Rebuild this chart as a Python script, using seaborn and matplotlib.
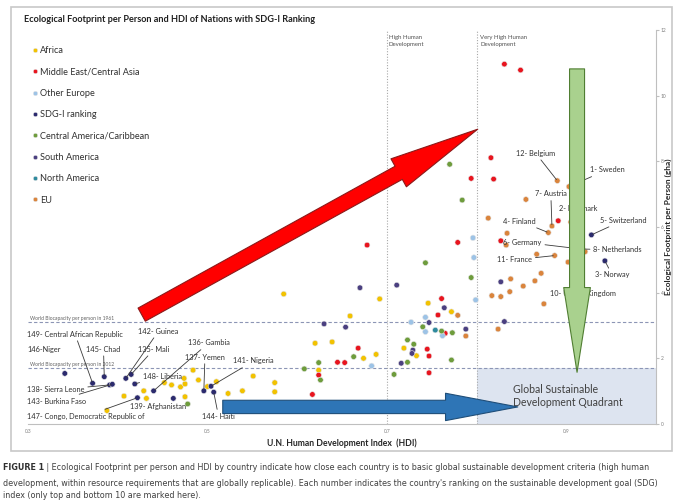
import seaborn as sns
import matplotlib.pyplot as plt
import pandas as pd
from matplotlib.patches import FancyArrowPatch, Rectangle

# values: HDI and footprint (gha) per region
africa_hdi = [0.388, 0.407, 0.429, 0.432, 0.452, 0.460, 0.470, 0.475, 0.474, 0.475,
              0.484, 0.490, 0.500, 0.510, 0.523, 0.539, 0.551, 0.575, 0.575, 0.585,
              0.620, 0.639, 0.659, 0.692, 0.674, 0.688, 0.624, 0.746, 0.772, 0.719, 0.733]
africa_ef = [0.41, 0.85, 1.01, 0.78, 1.26, 1.19, 1.13, 1.22, 1.39, 0.83,
             1.64, 1.34, 1.14, 1.29, 0.93, 1.01, 1.46, 1.26, 0.98, 3.96,
             2.46, 2.50, 3.29, 3.81, 2.00, 2.12, 1.64, 3.68, 3.42, 2.31, 2.08]
mideast_hdi = [0.831, 0.849, 0.816, 0.819, 0.794, 0.779, 0.678, 0.891, 0.827, 0.761,
               0.757, 0.765, 0.745, 0.747, 0.747, 0.668, 0.645, 0.653, 0.624, 0.617]
mideast_ef = [10.96, 10.78, 8.11, 7.46, 7.48, 5.53, 5.45, 6.19, 5.58, 3.82,
              3.32, 2.76, 2.28, 2.07, 1.56, 2.31, 1.88, 1.87, 1.49, 0.90]
other_eu_hdi = [0.796, 0.797, 0.799, 0.743, 0.727, 0.743, 0.762, 0.683]
other_eu_ef = [5.67, 5.07, 3.78, 3.25, 3.10, 2.81, 2.69, 1.77]
central_hdi = [0.770, 0.784, 0.794, 0.743, 0.740, 0.761, 0.773, 0.723, 0.730, 0.723,
               0.772, 0.708, 0.663, 0.608, 0.624, 0.626, 0.478]
central_ef = [7.91, 6.82, 4.46, 4.91, 2.96, 2.83, 2.78, 2.56, 2.43, 1.88,
              1.95, 1.51, 2.05, 1.68, 1.87, 1.34, 0.61]
south_hdi = [0.630, 0.654, 0.670, 0.711, 0.764, 0.747, 0.788, 0.729, 0.728, 0.716, 0.827, 0.831]
south_ef = [3.05, 2.95, 4.15, 4.23, 3.54, 3.09, 2.89, 2.25, 2.15, 1.85, 4.33, 3.12]
north_hdi = [0.754]
north_ef = [2.86]
eu_hdi = [0.813, 0.779, 0.788, 0.855, 0.834, 0.833, 0.867, 0.902, 0.872, 0.865,
          0.852, 0.838, 0.837, 0.817, 0.827, 0.875, 0.824, 0.921]
eu_ef = [6.27, 3.31, 2.68, 6.84, 5.81, 5.45, 5.17, 4.93, 4.59, 4.36,
         4.20, 4.42, 4.03, 3.91, 3.88, 3.66, 2.89, 5.25]

# SDG-I ranked countries (top and bottom)
rank_names = ['1- Sweden', '2- Denmark', '3- Norway', '4- Finland', '5- Switzerland',
              '6- Germany', '7- Austria', '8- Netherlands', '10- United Kingdom', '11- France',
              '12- Belgium', '135- Mali', '136- Gambia', '137- Yemen', '138- Sierra Leone',
              '139- Afghanistan', '141- Nigeria', '142- Guinea', '143- Burkina Faso', '144- Haiti',
              '145- Chad', '146-Niger', '147- Congo, Democratic Republic of', '148- Liberia',
              '149- Central African Republic']
rank_hdi = [0.903, 0.905, 0.943, 0.880, 0.928, 0.907, 0.884, 0.918, 0.912, 0.887,
            0.890, 0.415, 0.440, 0.496, 0.391, 0.462, 0.504, 0.409, 0.394, 0.507,
            0.385, 0.341, 0.422, 0.419, 0.372]
rank_ef = [7.23, 6.15, 4.97, 5.83, 5.76, 5.36, 6.03, 5.33, 4.10, 5.13,
           7.41, 1.51, 1.01, 1.01, 1.19, 0.78, 1.15, 1.39, 1.21, 0.97,
           1.44, 1.54, 0.80, 1.22, 1.24]
rank_region = ['EU', 'EU', 'SDG-I ranking', 'EU', 'SDG-I ranking', 'EU', 'EU', 'EU', 'EU', 'EU',
               'EU'] + ['SDG-I ranking'] * 14

# where each label text sits, and whether it has a leader line
label_x = [0.926, 0.892, 0.932, 0.830, 0.938, 0.830, 0.865, 0.930, 0.882, 0.823,
           0.844, 0.423, 0.478, 0.475, 0.299, 0.414, 0.529, 0.423, 0.299, 0.494,
           0.365, 0.299, 0.299, 0.428, 0.299]
label_y = [7.74, 6.55, 4.54, 6.18, 6.21, 5.54, 7.01, 5.30, 3.96, 5.00,
           8.25, 2.28, 2.47, 2.04, 1.04, 0.52, 1.92, 2.83, 0.70, 0.24,
           2.28, 2.28, 0.24, 1.46, 2.74]
no_leader = ['2- Denmark', '10- United Kingdom', '146-Niger', '139- Afghanistan']

regions = ['Africa', 'Middle East/Central Asia', 'Other Europe', 'SDG-I ranking',
           'Central America/Caribbean', 'South America', 'North America', 'EU']
colors = ['#F2C200', '#E8141E', '#9DC3E6', '#2B2A6E', '#6E9C3C', '#4A3F80', '#2E8A9E', '#DA843C']

rows = []
for reg, hx, ey in [('Africa', africa_hdi, africa_ef),
                    ('Middle East/Central Asia', mideast_hdi, mideast_ef),
                    ('Other Europe', other_eu_hdi, other_eu_ef),
                    ('Central America/Caribbean', central_hdi, central_ef),
                    ('South America', south_hdi, south_ef),
                    ('North America', north_hdi, north_ef),
                    ('EU', eu_hdi, eu_ef),
                    ]:
    for a, b in zip(hx, ey):
        rows.append((reg, a, b))
for reg, a, b in zip(rank_region, rank_hdi, rank_ef):
    rows.append((reg, a, b))
df = pd.DataFrame(rows, columns=['region', 'hdi', 'ef'])

sns.set_style('white')
plt.rcParams['font.family'] = ['Lato', 'DejaVu Sans']

W, H = 673, 504
fig = plt.figure(figsize=(6.73, 5.04), dpi=100)
ax = fig.add_axes([28 / W, 1 - 424 / H, (656 - 28) / W, (424 - 30) / H])

# quadrant + reference lines
ax.add_patch(Rectangle((0.8, 0), 0.2, 1.7, color='#DDE4F0', zorder=0, lw=0))
ax.axhline(3.1, ls=(0, (3, 2)), color='#8C95B5', lw=0.8, zorder=1)
ax.axhline(1.7, ls=(0, (3, 2)), color='#8C95B5', lw=0.8, zorder=1)
ax.axvline(0.7, ls=(0, (1, 1.5)), color='#A8A8A8', lw=0.8, zorder=1)
ax.axvline(0.8, ls=(0, (1, 1.5)), color='#A8A8A8', lw=0.8, zorder=1)

sns.scatterplot(data=df, x='hdi', y='ef', hue='region', hue_order=regions,
                palette=dict(zip(regions, colors)), s=16, edgecolor='#E6E6E6',
                linewidth=0.4, ax=ax, zorder=3)

ax.set_xlim(0.3, 1.0)
ax.set_ylim(0, 12)
ax.set_xticks([0.3, 0.5, 0.7, 0.9])
ax.set_yticks([0, 2, 4, 6, 8, 10, 12])
ax.yaxis.tick_right()
ax.tick_params(axis='both', labelsize=3.5, labelcolor='#808080', length=2, color='#BFBFBF', pad=1.5)
for s in ['left', 'top']:
    ax.spines[s].set_visible(False)
for s in ['right', 'bottom']:
    ax.spines[s].set_color('#BFBFBF')
    ax.spines[s].set_linewidth(0.8)
ax.set_xlabel('U.N. Human Development Index  (HDI)', fontsize=6.2, fontweight='bold', labelpad=3)
ax.set_ylabel('')
fig.text(668.5 / W, 1 - 227 / H, 'Ecological Footprint per Person (gha)', fontsize=6, fontweight='bold',
         rotation=90, ha='center', va='center')

ax.text(0.302, 3.13, 'World Biocapacity per person in 1961', fontsize=3.6, color='#606060', va='bottom')
ax.text(0.302, 1.73, 'World Biocapacity per person in 2012', fontsize=3.6, color='#606060', va='bottom')
ax.text(0.702, 11.85, 'High Human\nDevelopment', fontsize=4.3, color='#505050', va='top', linespacing=1.5)
ax.text(0.804, 11.85, 'Very High Human\nDevelopment', fontsize=4.3, color='#505050', va='top', linespacing=1.5)

# country labels
for name, px, py, tx, ty in zip(rank_names, rank_hdi, rank_ef, label_x, label_y):
    if name in no_leader:
        ax.text(tx, ty, name, fontsize=5.3, color='#303030', va='center', zorder=4)
    else:
        ax.annotate(name, xy=(px, py), xytext=(tx, ty), fontsize=5.3, color='#303030',
                    va='center', zorder=4,
                    arrowprops=dict(arrowstyle='-', color='#3A3A3A', lw=0.6,
                                    shrinkA=0, shrinkB=1))

# the three big arrows
red = FancyArrowPatch((0.424, 3.29), (0.804, 9.02),
                      arrowstyle='simple,head_length=65,head_width=23,tail_width=10.8',
                      mutation_scale=1, fc='#FF0000', ec='#8B1A1A', lw=0.8, zorder=6)
blue = FancyArrowPatch((0.514, 0.52), (0.849, 0.52),
                       arrowstyle='simple,head_length=52,head_width=19.7,tail_width=9.6',
                       mutation_scale=1, fc='#2E75B6', ec='#1F4E79', lw=0.8, zorder=6)
green = FancyArrowPatch((0.912, 10.9), (0.912, 1.49),
                        arrowstyle='simple,head_length=61,head_width=19.2,tail_width=10.8',
                        mutation_scale=1, fc='#A9D18E', ec='#507E32', lw=0.8, zorder=6)
for a in (red, blue, green):
    ax.add_patch(a)

ax.text(0.841, 0.85, 'Global Sustainable\nDevelopment Quadrant', fontsize=7.6, color='#404040',
        va='center', linespacing=1.15, zorder=7)

# legend
h, l = ax.get_legend_handles_labels()
ax.legend(h, l, loc='upper left', bbox_to_anchor=(33 / W, 1 - 46 / H), bbox_transform=fig.transFigure,
          frameon=False, fontsize=6.6, labelspacing=1.35, handlelength=0.4, handletextpad=0.4,
          borderpad=0, borderaxespad=0, markerscale=0.8, labelcolor='#303030')

fig.text(24 / W, 1 - 20 / H, 'Ecological Footprint per Person and HDI of Nations with SDG-I Ranking',
         fontsize=6.6, fontweight='bold', color='#202020', va='center')

# frame around chart
fig.add_artist(Rectangle((11 / W, 1 - 451 / H), (672 - 11) / W, (451 - 7) / H, transform=fig.transFigure,
                         fill=False, edgecolor='#C8C8C8', lw=1.2))

# caption, shrunk until the long lines fit the page width
cap_kw = dict(family=['DejaVu Sans'], va='center')
t_fig = fig.text(3 / W, 1 - 468 / H, 'FIGURE 1', fontsize=7.4, fontweight='bold', color='#303030', **cap_kw)
t1 = fig.text(41 / W, 1 - 468 / H, ' | Ecological Footprint per person and HDI by country indicate how close each '
              'country is to basic global sustainable development criteria (high human', fontsize=7.4,
              color='#404040', **cap_kw)
t2 = fig.text(3 / W, 1 - 483 / H, "development, within resource requirements that are globally replicable). Each "
              "number indicates the country's ranking on the sustainable development goal (SDG)", fontsize=7.4,
              color='#404040', **cap_kw)
t3 = fig.text(3 / W, 1 - 496 / H, 'index (only top and bottom 10 are marked here).', fontsize=7.4,
              color='#404040', **cap_kw)

for _ in range(4):
    fig.canvas.draw()
    r = fig.canvas.get_renderer()
    bb_fig = t_fig.get_window_extent(r)
    t1.set_x((bb_fig.x1) / W)
    fig.canvas.draw()
    right1 = t1.get_window_extent(r).x1
    right2 = t2.get_window_extent(r).x1
    k = min(669 / right1, 662 / right2)
    if k >= 0.999:
        break
    for t in (t_fig, t1, t2, t3):
        t.set_fontsize(t.get_fontsize() * k * 0.995)

fig.savefig('out.png', dpi=100)
